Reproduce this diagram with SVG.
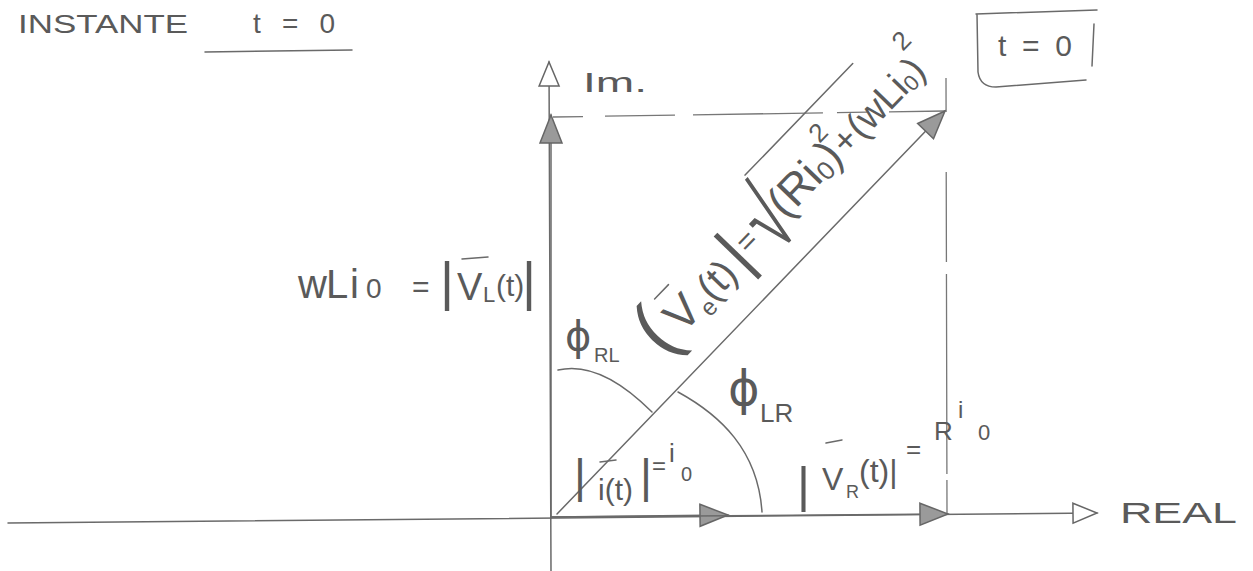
<svg xmlns="http://www.w3.org/2000/svg" width="1253" height="571" viewBox="0 0 1253 571">
<style>
  .ln{stroke:#6a6a6a;stroke-width:1.5;fill:none;stroke-linecap:round}
  .dash{stroke:#777;stroke-width:1.3;fill:none}
  .t{font-family:"Liberation Sans","DejaVu Sans",sans-serif;fill:#5a5a5a}
  .g{font-family:"DejaVu Sans","Liberation Sans",sans-serif;fill:#5a5a5a}
</style>
<defs>
  <marker id="open" markerUnits="userSpaceOnUse" markerWidth="28" markerHeight="24" refX="26" refY="12" orient="auto">
    <path d="M2,2 L26,12 L2,22 Z" fill="#fff" stroke="#666" stroke-width="1.5"/>
  </marker>
  <marker id="solid" markerUnits="userSpaceOnUse" markerWidth="32" markerHeight="26" refX="30" refY="13" orient="auto">
    <path d="M2,2 L30,13 L2,24 Z" fill="#9a9a9a" stroke="#666" stroke-width="1.5"/>
  </marker>
</defs>
<rect width="1253" height="571" fill="#fff"/>

<g id="title">
  <text class="t" x="18" y="33" font-size="26" textLength="170" lengthAdjust="spacingAndGlyphs">INSTANTE</text>
  <text class="t" x="253" y="33" font-size="28" textLength="82" lengthAdjust="spacing">t = 0</text>
  <path class="ln" d="M205,52 L352,50" stroke-width="2.2"/>
</g>

<g id="box-t0">
  <path class="ln" d="M976,14 L1097,10 M977,14 L978,72 Q980,87 996,87 L1086,80 M1094,24 L1092,66"/>
  <text class="t" x="998" y="56" font-size="30" textLength="74" lengthAdjust="spacing">t = 0</text>
</g>

<g id="axes">
  <path class="ln" d="M8,523 L1097,513" marker-end="url(#open)"/>
  <path class="ln" d="M551,571 L549,62" marker-end="url(#open)"/>
  <text class="t" x="583" y="92" font-size="28" textLength="64" lengthAdjust="spacingAndGlyphs">Im.</text>
  <text class="t" x="1120" y="523" font-size="30" textLength="117" lengthAdjust="spacingAndGlyphs">REAL</text>
</g>

<g id="connectors">
  <path class="dash" d="M553,117 L945,111" stroke-dasharray="30 22 70 18 130 14"/>
  <path class="dash" d="M946,78 L947,514" stroke-dasharray="34 60 90 12 200 6"/>
  <path class="ln" d="M551,518 L551,115" marker-end="url(#solid)"/>
  <path class="ln" d="M551,517 L728,515" marker-end="url(#solid)"/>
  <path class="ln" d="M551,517 L948,514" marker-end="url(#solid)"/>
  <path class="ln" d="M557,514 L945,111" marker-end="url(#solid)"/>
  <path class="ln" d="M558,370 C592,362 625,385 652,412"/>
  <path class="ln" d="M678,392 C720,415 758,450 762,512"/>
</g>

<g id="label-vl">
  <text class="t" font-size="40" y="298"><tspan x="298">w</tspan><tspan x="326">L</tspan><tspan x="350">i</tspan><tspan x="366" font-size="28">0</tspan></text>
  <text class="t" x="412" y="297" font-size="30">=</text>
  <text class="t" x="440" y="300" font-size="54">|</text>
  <text class="t" x="457" y="300" font-size="38">V</text>
  <path class="ln" d="M462,259 L488,257"/>
  <text class="t" x="483" y="302" font-size="22">L</text>
  <text class="t" x="496" y="296" font-size="30">(t)</text>
  <text class="t" x="522" y="300" font-size="54">|</text>
</g>

<g id="label-phi-rl">
  <text class="g" x="565" y="350" font-size="40">ϕ</text>
  <text class="t" x="594" y="362" font-size="20">RL</text>
</g>

<g id="label-phi-lr">
  <text class="g" x="728" y="405" font-size="48">ϕ</text>
  <text class="t" x="760" y="422" font-size="26">LR</text>
</g>

<g id="label-v" transform="translate(662,359) rotate(-46)">
  <text class="t" x="2" y="0" font-size="76">(</text>
  <text class="t" x="32" y="-2" font-size="46">V</text>
  <path class="ln" d="M38,-47 L58,-47"/>
  <text class="t" x="63" y="6" font-size="24">e</text>
  <text class="t" x="76" y="-2" font-size="40">(t)</text>
  <text class="t" x="118" y="0" font-size="66">|</text>
  <text class="t" x="135" y="-11" font-size="30">=</text>
  <text class="t" font-size="70" transform="translate(156,10) scale(0.9,1.35)">√</text>
  <path class="ln" d="M190,-68 L345,-68"/>
  <text class="t" x="186" y="-8" font-size="44">(Ri<tspan font-size="26" dy="4">0</tspan><tspan dy="-4">)</tspan></text>
  <text class="t" x="264" y="-36" font-size="26">2</text>
  <text class="t" x="274" y="-8" font-size="36">+</text>
  <text class="t" x="296" y="-8" font-size="38">(wLi<tspan font-size="22" dy="3">0</tspan><tspan dy="-3">)</tspan></text>
  <text class="t" x="388" y="-40" font-size="26">2</text>
</g>

<g id="label-i">
  <text class="t" x="574" y="492" font-size="46">|</text>
  <text class="t" x="598" y="500" font-size="30">i(t)</text>
  <path class="ln" d="M600,462 L616,460"/>
  <text class="t" x="640" y="492" font-size="46">|</text>
  <text class="t" x="652" y="474" font-size="24">=</text>
  <text class="t" x="669" y="462" font-size="26">i</text>
  <text class="t" x="681" y="481" font-size="20">0</text>
</g>

<g id="label-vr">
  <text class="t" x="797" y="502" font-size="50">|</text>
  <text class="t" x="822" y="490" font-size="32">V</text>
  <path class="ln" d="M826,443 L842,440"/>
  <text class="t" x="846" y="498" font-size="18">R</text>
  <text class="t" x="859" y="482" font-size="32">(t)|</text>
  <text class="t" x="906" y="458" font-size="26">=</text>
  <text class="t" x="934" y="440" font-size="26">R</text>
  <text class="t" x="958" y="418" font-size="24">i</text>
  <text class="t" x="978" y="440" font-size="22">0</text>
</g>
</svg>
